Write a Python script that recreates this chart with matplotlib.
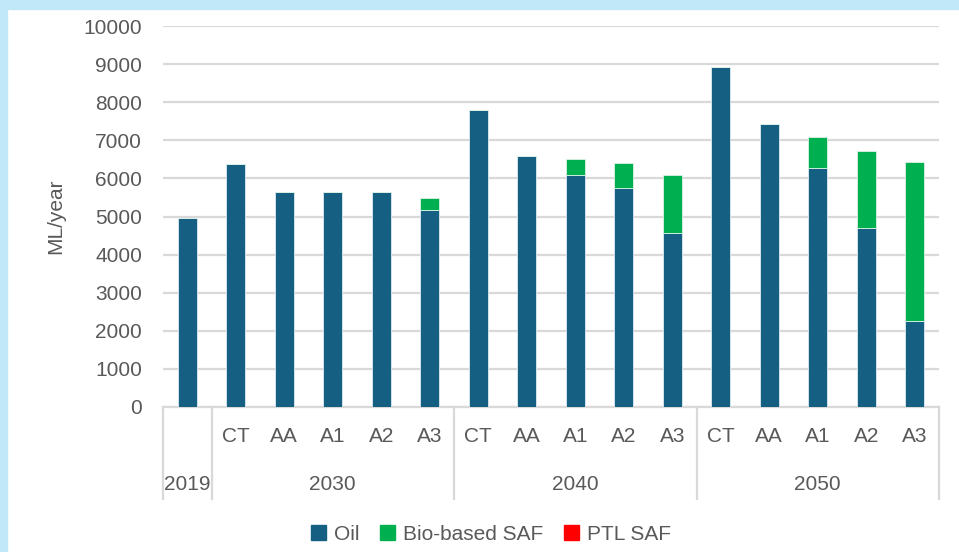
import matplotlib
matplotlib.use("Agg")
import matplotlib.pyplot as plt
from matplotlib.patches import Patch, Rectangle
from matplotlib.lines import Line2D
from matplotlib.transforms import blended_transform_factory
import numpy as np

# data (ML/year)
years = ["2019", "2030", "2040", "2050"]
year_sizes = [1, 5, 5, 5]
scenarios = ["", "CT", "AA", "A1", "A2", "A3",
             "CT", "AA", "A1", "A2", "A3",
             "CT", "AA", "A1", "A2", "A3"]
oil = [4960, 6370, 5630, 5630, 5630, 5160,
       7800, 6600, 6100, 5760, 4560,
       8930, 7420, 6280, 4700, 2250]
bio_saf = [0, 0, 0, 0, 0, 330,
           0, 0, 400, 640, 1540,
           0, 0, 810, 2020, 4170]
ptl_saf = [0] * 16

OIL_C = "#156082"
BIO_C = "#00B050"
PTL_C = "#FF0000"
TXT = "#595959"
GRID = "#D9D9D9"
FS = 15

plt.rcParams['font.family'] = ['Liberation Sans', 'DejaVu Sans']

fig = plt.figure(figsize=(9.59, 5.52), dpi=100)
ax = fig.add_axes([163 / 959, 1 - 407 / 552, 776 / 959, 381 / 552])

# light blue frame at top and left
fig.patches.append(Rectangle((0, 1 - 9 / 552), 1, 9 / 552, transform=fig.transFigure,
                             color="#C0E8F8", zorder=-1))
fig.patches.append(Rectangle((0, 0), 7 / 959, 1, transform=fig.transFigure,
                             color="#C0E8F8", zorder=-1))

x = np.arange(len(oil))
w = 0.4
ax.bar(x, oil, w, color=OIL_C, edgecolor="#DDEBF2", linewidth=0.6, zorder=3, label="Oil")
ax.bar(x, bio_saf, w, bottom=oil, color=BIO_C, edgecolor="#DDF2E5", linewidth=0.6,
       zorder=3, label="Bio-based SAF")
bottom2 = np.array(oil) + np.array(bio_saf)
ax.bar(x, ptl_saf, w, bottom=bottom2, color=PTL_C, linewidth=0, zorder=3, label="PTL SAF")

ax.set_xlim(-0.5, len(oil) - 0.5)
ax.set_ylim(0, 10000)
ax.set_yticks(np.arange(0, 10001, 1000))
ax.tick_params(axis="y", length=0, labelsize=FS, labelcolor=TXT, pad=15)
ax.set_xticks([])
ax.yaxis.grid(True, color=GRID, linewidth=1.6, zorder=0)
ax.set_axisbelow(True)
for s in ["left", "right", "top"]:
    ax.spines[s].set_visible(False)
ax.spines["bottom"].set_color(GRID)
ax.spines["bottom"].set_linewidth(1.6)
ax.set_ylabel("ML/year", fontsize=FS, color=TXT, labelpad=13)

# multi-level category axis
tr = blended_transform_factory(ax.transData, fig.transFigure)
y_axis = 1 - 407 / 552
y_scen = 1 - 437 / 552
y_year = 1 - 484 / 552
y_end = 1 - 499 / 552
for i, s in enumerate(scenarios):
    if s:
        ax.text(i, y_scen, s, transform=tr, ha="center", va="center",
                fontsize=FS, color=TXT)
start = 0
edges = [-0.5]
for yr, n in zip(years, year_sizes):
    ax.text(start + (n - 1) / 2, y_year, yr, transform=tr, ha="center", va="center",
            fontsize=FS, color=TXT)
    start += n
    edges.append(start - 0.5)
for e in edges:
    fig.add_artist(Line2D([e, e], [y_axis, y_end], transform=tr, color=GRID,
                          linewidth=1.6, clip_on=False))

handles = [Patch(color=OIL_C), Patch(color=BIO_C), Patch(color=PTL_C)]
fig.legend(handles, ["Oil", "Bio-based SAF", "PTL SAF"], loc="center",
           bbox_to_anchor=(491 / 959, 1 - 534 / 552), ncol=3, frameon=False,
           fontsize=FS, labelcolor=TXT, handlelength=0.7, handleheight=0.7,
           handletextpad=0.4, columnspacing=1.0)

fig.savefig("out.png", dpi=100)
